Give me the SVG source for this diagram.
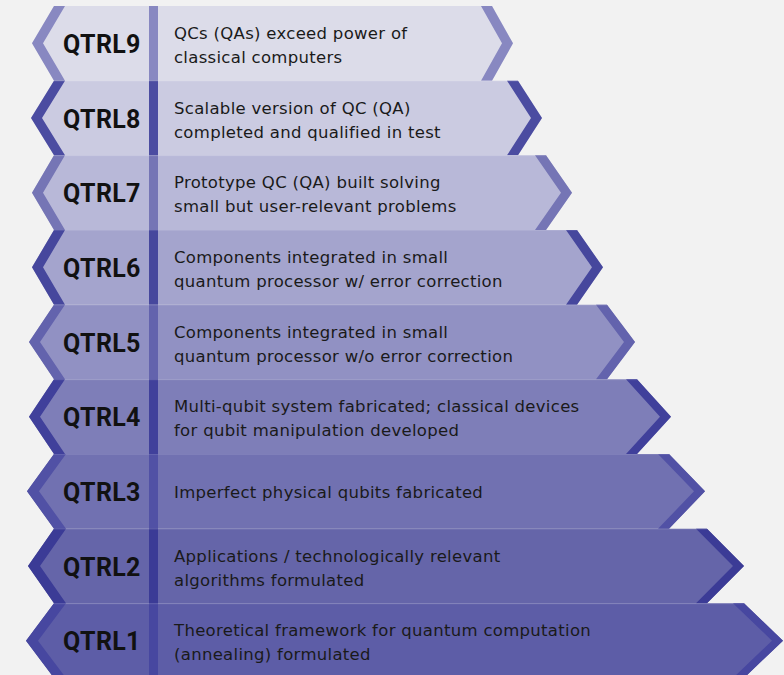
<svg xmlns="http://www.w3.org/2000/svg" width="784" height="675" viewBox="0 0 784 675">
<style>
.lbl{font-family:Roboto,"Liberation Sans",sans-serif;font-weight:700;font-size:25px;letter-spacing:0.3px;fill:#111}
.dsc{font-family:"DejaVu Sans","Liberation Sans",sans-serif;font-size:16.5px;letter-spacing:0.3px;fill:#1a1a1a}
.sep{fill:#ffffff;opacity:0.1}
</style>
<rect width="784" height="675" fill="#f2f2f2"/>

<g id="qtrl9">
<polygon points="54,6 492,6 513,43.3 492,80.7 54,80.7 32,43.3" fill="#dcdce9"/>
<polygon points="54,6 65,6 43,43.3 65,80.7 54,80.7 32,43.3" fill="#8888c1"/>
<polygon points="481,6 492,6 513,43.3 492,80.7 481,80.7 502,43.3" fill="#8888c1"/>
<rect x="149" y="6" width="9" height="74.7" fill="#8888c1"/>
<text class="lbl" x="63" y="52.8">QTRL9</text>
<text class="dsc" x="174" y="38.8">QCs (QAs) exceed power of</text>
<text class="dsc" x="174" y="62.8">classical computers</text>
</g>

<g id="qtrl8">
<polygon points="54,80.7 518,80.7 542,118 518,155.3 54,155.3 31,118" fill="#cbcbe1"/>
<polygon points="54,80.7 65,80.7 42,118 65,155.3 54,155.3 31,118" fill="#4b4ca1"/>
<polygon points="507,80.7 518,80.7 542,118 518,155.3 507,155.3 531,118" fill="#4b4ca1"/>
<rect x="149" y="80.7" width="9" height="74.7" fill="#4b4ca1"/>
<rect class="sep" x="54" y="80.7" width="464" height="1"/>
<text class="lbl" x="63" y="127.5">QTRL8</text>
<text class="dsc" x="174" y="113.5">Scalable version of QC (QA)</text>
<text class="dsc" x="174" y="137.5">completed and qualified in test</text>
</g>

<g id="qtrl7">
<polygon points="54,155.3 546,155.3 572,192.7 546,230 54,230 32,192.7" fill="#b8b8d8"/>
<polygon points="54,155.3 65,155.3 43,192.7 65,230 54,230 32,192.7" fill="#7575b5"/>
<polygon points="535,155.3 546,155.3 572,192.7 546,230 535,230 561,192.7" fill="#7575b5"/>
<rect x="149" y="155.3" width="9" height="74.7" fill="#7575b5"/>
<rect class="sep" x="54" y="155.3" width="492" height="1"/>
<text class="lbl" x="63" y="202.2">QTRL7</text>
<text class="dsc" x="174" y="188.2">Prototype QC (QA) built solving</text>
<text class="dsc" x="174" y="212.2">small but user-relevant problems</text>
</g>

<g id="qtrl6">
<polygon points="54,230 577,230 603,267.3 577,304.7 54,304.7 32,267.3" fill="#a4a4cd"/>
<polygon points="54,230 65,230 43,267.3 65,304.7 54,304.7 32,267.3" fill="#46479d"/>
<polygon points="566,230 577,230 603,267.3 577,304.7 566,304.7 592,267.3" fill="#46479d"/>
<rect x="149" y="230" width="9" height="74.7" fill="#46479d"/>
<rect class="sep" x="54" y="230" width="523" height="1"/>
<text class="lbl" x="63" y="276.8">QTRL6</text>
<text class="dsc" x="174" y="262.8">Components integrated in small</text>
<text class="dsc" x="174" y="286.8">quantum processor w/ error correction</text>
</g>

<g id="qtrl5">
<polygon points="54,304.7 607,304.7 635,342 607,379.3 54,379.3 29,342" fill="#9191c3"/>
<polygon points="54,304.7 65,304.7 40,342 65,379.3 54,379.3 29,342" fill="#6363ad"/>
<polygon points="596,304.7 607,304.7 635,342 607,379.3 596,379.3 624,342" fill="#6363ad"/>
<rect x="149" y="304.7" width="9" height="74.7" fill="#6363ad"/>
<rect class="sep" x="54" y="304.7" width="553" height="1"/>
<text class="lbl" x="63" y="351.5">QTRL5</text>
<text class="dsc" x="174" y="337.5">Components integrated in small</text>
<text class="dsc" x="174" y="361.5">quantum processor w/o error correction</text>
</g>

<g id="qtrl4">
<polygon points="54,379.3 637,379.3 671,416.7 637,454 54,454 29,416.7" fill="#7e7eb8"/>
<polygon points="54,379.3 65,379.3 40,416.7 65,454 54,454 29,416.7" fill="#40409b"/>
<polygon points="626,379.3 637,379.3 671,416.7 637,454 626,454 660,416.7" fill="#40409b"/>
<rect x="149" y="379.3" width="9" height="74.7" fill="#40409b"/>
<rect class="sep" x="54" y="379.3" width="583" height="1"/>
<text class="lbl" x="63" y="426.2">QTRL4</text>
<text class="dsc" x="174" y="412.2">Multi-qubit system fabricated; classical devices</text>
<text class="dsc" x="174" y="436.2">for qubit manipulation developed</text>
</g>

<g id="qtrl3">
<polygon points="54,454 669,454 705,491.3 669,528.7 54,528.7 27,491.3" fill="#7171b1"/>
<polygon points="54,454 66,454 39,491.3 66,528.7 54,528.7 27,491.3" fill="#5151a5"/>
<polygon points="658,454 669,454 705,491.3 669,528.7 658,528.7 694,491.3" fill="#5151a5"/>
<rect x="149" y="454" width="9" height="74.7" fill="#5151a5"/>
<rect class="sep" x="54" y="454" width="615" height="1"/>
<text class="lbl" x="63" y="500.8">QTRL3</text>
<text class="dsc" x="174" y="497.8">Imperfect physical qubits fabricated</text>
</g>

<g id="qtrl2">
<polygon points="54,528.7 707,528.7 744,566 707,603.3 54,603.3 28,566" fill="#6565a9"/>
<polygon points="54,528.7 66,528.7 40,566 66,603.3 54,603.3 28,566" fill="#3b3b96"/>
<polygon points="696,528.7 707,528.7 744,566 707,603.3 696,603.3 733,566" fill="#3b3b96"/>
<rect x="149" y="528.7" width="9" height="74.7" fill="#3b3b96"/>
<rect class="sep" x="54" y="528.7" width="653" height="1"/>
<text class="lbl" x="63" y="575.5">QTRL2</text>
<text class="dsc" x="174" y="561.5">Applications / technologically relevant</text>
<text class="dsc" x="174" y="585.5">algorithms formulated</text>
</g>

<g id="qtrl1">
<polygon points="54,603.3 744,603.3 783,640.7 744,678 54,678 26,640.7" fill="#5d5da7"/>
<polygon points="54,603.3 66,603.3 38,640.7 66,678 54,678 26,640.7" fill="#4747a0"/>
<polygon points="733,603.3 744,603.3 783,640.7 744,678 733,678 772,640.7" fill="#4747a0"/>
<rect x="149" y="603.3" width="9" height="74.7" fill="#4747a0"/>
<rect class="sep" x="54" y="603.3" width="690" height="1"/>
<text class="lbl" x="63" y="650.2">QTRL1</text>
<text class="dsc" x="174" y="636.2">Theoretical framework for quantum computation</text>
<text class="dsc" x="174" y="660.2">(annealing) formulated</text>
</g>
</svg>
